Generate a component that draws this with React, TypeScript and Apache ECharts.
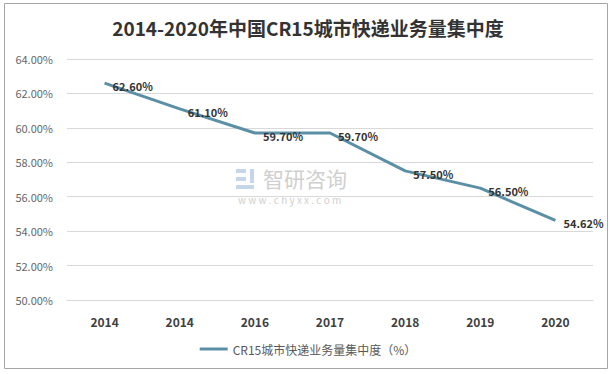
import React, { useEffect, useRef } from "react";
import * as echarts from "echarts";

const categories = ["2014", "2014", "2016", "2017", "2018", "2019", "2020"];
const values = [62.6, 61.1, 59.7, 59.7, 57.5, 56.5, 54.62];
const seriesName = "CR15城市快递业务量集中度（%）";
const titleText = "2014-2020年中国CR15城市快递业务量集中度";

export default function App() {
  const ref = useRef<HTMLDivElement>(null);
  useEffect(() => {
    if (!ref.current) return;
    const chart = echarts.init(ref.current, null, { renderer: "svg" });
    const font = '"Noto Sans CJK SC", "Noto Sans", sans-serif';
    chart.setOption({
      animation: false,
      backgroundColor: "#ffffff",
      title: {
        text: titleText,
        left: "center",
        top: 13,
        textStyle: { fontFamily: font, fontSize: 19, fontWeight: "bold", color: "#333333" },
      },
      grid: { left: 67, right: 23, top: 59, bottom: 74 },
      legend: {
        bottom: 14,
        left: "center",
        itemWidth: 28,
        itemHeight: 3,
        itemGap: 4,
        icon: "rect",
        textStyle: { fontFamily: font, fontSize: 12, color: "#595959" },
        data: [seriesName],
      },
      xAxis: {
        type: "category",
        data: categories,
        boundaryGap: true,
        axisLine: { show: true, lineStyle: { color: "#d9d9d9" } },
        axisTick: { show: false },
        axisLabel: { fontFamily: font, fontSize: 12, fontWeight: "bold", color: "#404040", margin: 15 },
      },
      yAxis: {
        type: "value",
        min: 50,
        max: 64,
        interval: 2,
        axisLine: { show: false },
        axisTick: { show: false },
        splitLine: { lineStyle: { color: "#d9d9d9" } },
        axisLabel: {
          fontFamily: font,
          fontSize: 11,
          color: "#666666",
          margin: 14,
          formatter: (v: number) => v.toFixed(2) + "%",
        },
      },
      series: [
        {
          name: seriesName,
          type: "line",
          data: values,
          symbol: "circle",
          symbolSize: 0.1,
          showSymbol: true,
          lineStyle: { color: "#5b8fa6", width: 3 },
          itemStyle: { color: "#5b8fa6" },
          label: {
            show: true,
            position: "right",
            distance: 8,
            offset: [0, 3],
            fontFamily: font,
            fontSize: 11,
            fontWeight: "bold",
            color: "#333333",
            formatter: (p: any) => Number(p.value).toFixed(2) + "%",
          },
        },
      ],
      graphic: [
        {
          type: "rect",
          shape: { x: 4.5, y: 3.5, width: 603, height: 365 },
          style: { fill: "none", stroke: "#a6a6a6", lineWidth: 1 },
          silent: true,
        },
        {
          type: "group",
          left: 236,
          top: 167,
          silent: true,
          children: [
            { type: "rect", shape: { x: 0, y: 0, width: 10, height: 4 }, style: { fill: "#c5d6ea" } },
            { type: "rect", shape: { x: 0, y: 8, width: 10, height: 4 }, style: { fill: "#c5d6ea" } },
            { type: "rect", shape: { x: 0, y: 16, width: 18, height: 4 }, style: { fill: "#c5d6ea" } },
            { type: "rect", shape: { x: 14, y: 0, width: 4, height: 14 }, style: { fill: "#c5d6ea" } },
            {
              type: "text",
              x: 27,
              y: -2,
              style: { text: "智研咨询", fontFamily: font, fontSize: 21, fill: "#cfcfcf" },
            },
            {
              type: "text",
              x: 2,
              y: 25,
              style: { text: "w w w . c h y x x . c o m", fontFamily: font, fontSize: 10, fill: "#cfcfcf" },
            },
          ],
        },
      ],
    });
    return () => chart.dispose();
  }, []);
  return <div ref={ref} style={{ position: "fixed", left: 0, top: 0, width: 616, height: 374 }} />;
}
